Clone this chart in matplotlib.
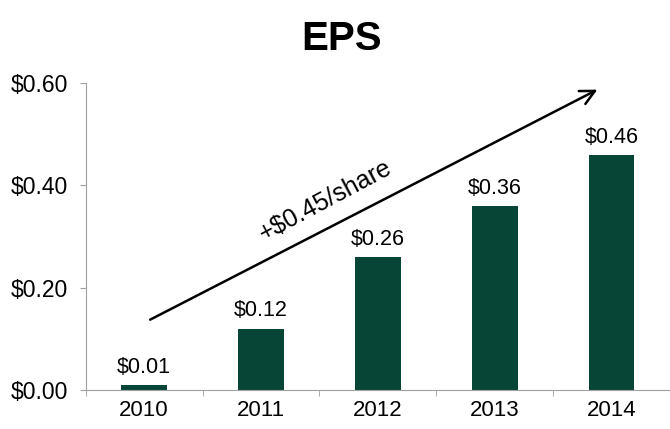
import matplotlib.pyplot as plt
import numpy as np

plt.rcParams['font.family'] = ['Liberation Sans', 'DejaVu Sans']

years = ['2010', '2011', '2012', '2013', '2014']
eps = [0.01, 0.12, 0.26, 0.36, 0.46]
eps_labels = ['$0.01', '$0.12', '$0.26', '$0.36', '$0.46']
yticks = [0.0, 0.2, 0.4, 0.6]
ytick_labels = ['$0.00', '$0.20', '$0.40', '$0.60']

fig = plt.figure(figsize=(6.7, 4.29), dpi=100)
ax = fig.add_axes([0.128, 0.091, 0.872, 0.715])

x = np.arange(len(years))
ax.bar(x, eps, width=0.39, color='#074636')

for i in range(len(x)):
    ax.text(x[i], eps[i] + 0.014, eps_labels[i], ha='center', va='bottom', fontsize=15.5)

ax.set_xlim(-0.5, 4.5)
ax.set_ylim(0, 0.6)
ax.set_yticks(yticks)
ax.set_yticklabels(ytick_labels, fontsize=16.5)
ax.set_xticks(x)
ax.set_xticklabels(years, fontsize=16)
ax.tick_params(axis='x', length=0, pad=7)
ax.set_xticks(np.arange(-0.5, 4.6, 1), minor=True)
ax.tick_params(axis='x', which='minor', length=4, color='#a0a0a0')
ax.tick_params(axis='y', length=4, color='#a0a0a0', pad=9)

for s in ['top', 'right']:
    ax.spines[s].set_visible(False)
ax.spines['left'].set_color('#a0a0a0')
ax.spines['bottom'].set_color('#a0a0a0')

# growth arrow
ax.annotate('', xy=(3.9, 0.59), xytext=(0.03, 0.135),
            arrowprops=dict(arrowstyle='->', color='black', lw=1.8, mutation_scale=26))
ax.text(1.55, 0.37, '+$0.45/share', rotation=28, ha='center', va='center', fontsize=18)

fig.text(0.51, 0.91, 'EPS', ha='center', va='center', fontsize=29, fontweight='bold')

plt.savefig('out.png', dpi=100)
